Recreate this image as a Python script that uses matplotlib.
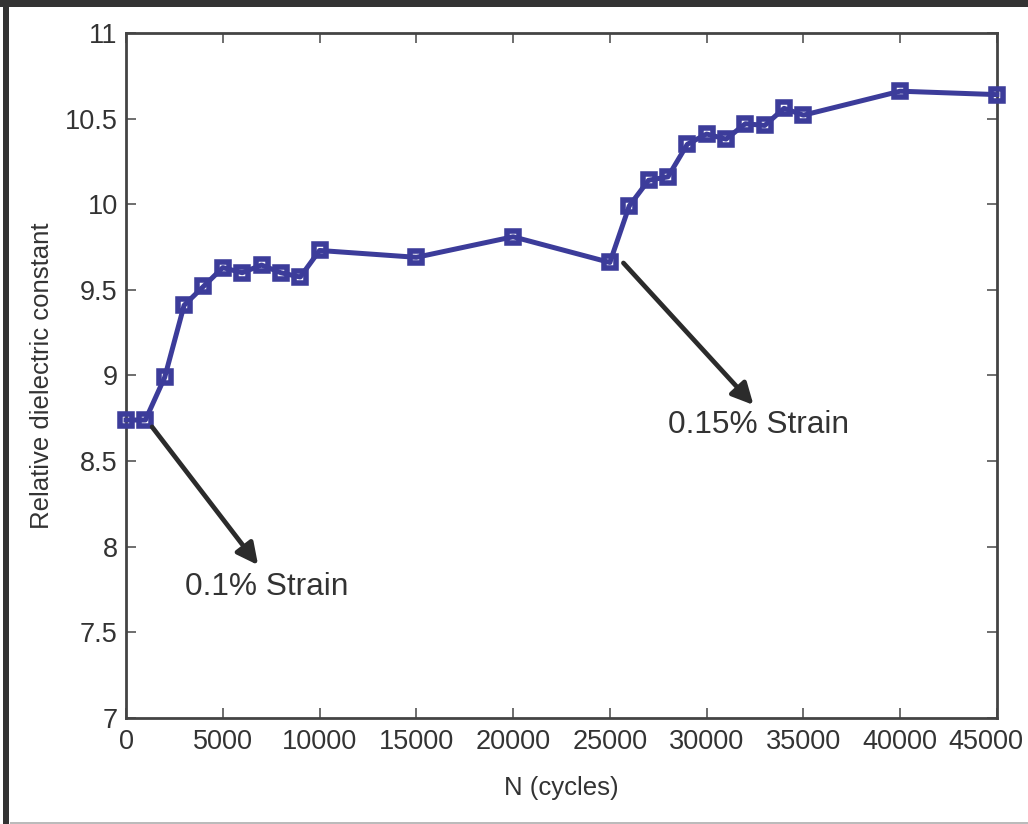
import matplotlib
matplotlib.use("Agg")
import matplotlib.pyplot as plt
from matplotlib.patches import Rectangle
from matplotlib.transforms import ScaledTranslation

plt.rcParams['font.family'] = ['Liberation Sans', 'DejaVu Sans']

# Cycling data
cycles = [0, 1000, 2000, 3000, 4000, 5000, 6000, 7000, 8000, 9000, 10000,
          15000, 20000, 25000, 26000, 27000, 28000, 29000, 30000, 31000,
          32000, 33000, 34000, 35000, 40000, 45000]
dielectric = [8.74, 8.74, 8.99, 9.41, 9.52, 9.63, 9.60, 9.645, 9.60, 9.575, 9.73,
              9.69, 9.81, 9.66, 9.99, 10.14, 10.16, 10.35, 10.41, 10.38,
              10.47, 10.46, 10.56, 10.52, 10.66, 10.64]

x_ticks = [0, 5000, 10000, 15000, 20000, 25000, 30000, 35000, 40000, 45000]
y_ticks = [7, 7.5, 8, 8.5, 9, 9.5, 10, 10.5, 11]
y_tick_labels = ['7', '7.5', '8', '8.5', '9', '9.5', '10', '10.5', '11']

annotations = [
    ("0.1% Strain", (1345, 8.70), (6825, 7.893), (3050, 7.765)),
    ("0.15% Strain", (25700, 9.657), (32420, 8.828), (28025, 8.711)),
]

line_color = '#3c3c9a'
ink = '#2b2b2b'

fig = plt.figure(figsize=(10.28, 8.24), dpi=100)
ax = fig.add_axes([0.1226, 0.1286, 0.8472, 0.8314])

ax.plot(cycles, dielectric, color=line_color, lw=3.6, marker='s',
        markersize=8.5, markeredgewidth=4, markerfacecolor='none',
        markeredgecolor=line_color, clip_on=False, zorder=3)

for text, start, tip, pos in annotations:
    ax.annotate('', xy=tip, xytext=start,
                arrowprops=dict(arrowstyle='-|>', color=ink, lw=3.4,
                                mutation_scale=32, shrinkA=0, shrinkB=0))
    ax.text(pos[0], pos[1], text, fontsize=22.8, color='#333333',
            ha='left', va='center')

ax.set_xlim(0, 45000)
ax.set_ylim(7, 11)
ax.set_xticks(x_ticks)
ax.set_xticklabels([str(t) for t in x_ticks])
ax.set_yticks(y_ticks)
ax.set_yticklabels(y_tick_labels)
ax.tick_params(direction='in', length=7, width=1.2, color='#555555',
               labelsize=19.5, labelcolor='#333333', top=True, right=True)
ax.tick_params(axis='x', pad=8)
ax.tick_params(axis='y', pad=6)
for s in ax.spines.values():
    s.set_linewidth(2)
    s.set_color('#444444')

# keep the last x label inside the figure
last = ax.get_xticklabels()[-1]
last.set_transform(last.get_transform() + ScaledTranslation(-11 / 100, 0, fig.dpi_scale_trans))

ax.set_xlabel('N (cycles)', fontsize=18.5, color='#333333', labelpad=15)
ax.set_ylabel('Relative dielectric constant', fontsize=18.5, color='#333333',
              labelpad=8)

# dark frame around the figure
fig.patches.append(Rectangle((0, 1 - 7 / 824), 1, 7 / 824, transform=fig.transFigure,
                             facecolor='#333333', edgecolor='none', zorder=0))
fig.patches.append(Rectangle((3 / 1028, 0), 6 / 1028, 1, transform=fig.transFigure,
                             facecolor='#333333', edgecolor='none', zorder=0))
fig.patches.append(Rectangle((10 / 1028, 0), 1, 2 / 824, transform=fig.transFigure,
                             facecolor='#bbbbbb', edgecolor='none', zorder=0))

fig.savefig('out.png', dpi=100)
